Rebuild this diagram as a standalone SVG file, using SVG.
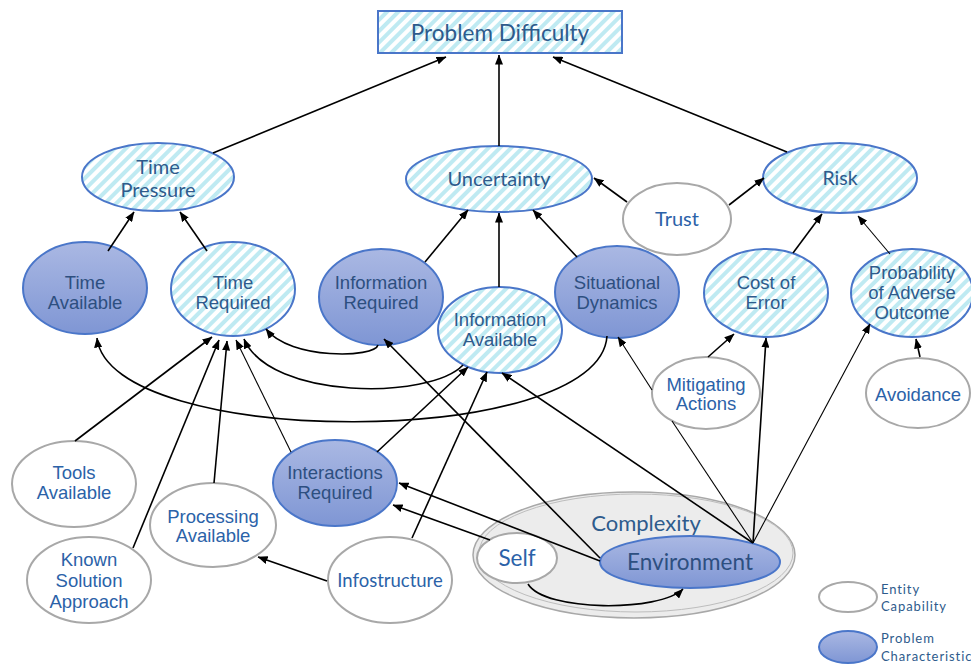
<svg xmlns="http://www.w3.org/2000/svg" width="971" height="665" viewBox="0 0 971 665">
  <defs>
    <!-- diagonal cyan hatch for derived factors -->
    <pattern id="hatch" width="8" height="8" patternUnits="userSpaceOnUse" patternTransform="rotate(45)">
      <rect width="8" height="8" fill="#ffffff"/>
      <rect width="4" height="8" fill="#bfeaf2"/>
    </pattern>
    <!-- shaded fill for problem characteristics -->
    <linearGradient id="shade" x1="0" y1="0" x2="0" y2="1">
      <stop offset="0" stop-color="#aab8e3"/>
      <stop offset="1" stop-color="#7f96d4"/>
    </linearGradient>
    <marker id="arr" markerUnits="userSpaceOnUse" markerWidth="10" markerHeight="8" refX="9.5" refY="4" orient="auto">
      <path d="M0,0 L10,4 L0,8 z" fill="#000"/>
    </marker>
    <style>
      .hatch { fill: url(#hatch); stroke: #4a76c9; stroke-width: 2; }
      .prob { fill: url(#shade); stroke: #4a76c9; stroke-width: 2; }
      .ent { fill: #ffffff; stroke: #a8a8a8; stroke-width: 2; }
      .lbl { font-family: "Liberation Sans", Arial, sans-serif; font-size: 18.5px; text-anchor: middle; }
      .cal { font-family: Lato, "Liberation Sans", sans-serif; text-anchor: middle; }
      .tH { fill: #2e5b8c; }
      .tP { fill: #2d4f80; }
      .tE { fill: #2b62a8; }
      .leg { font-family: Lato, "Liberation Sans", sans-serif; font-size: 13px; fill: #2e5b8c; letter-spacing: 0.9px; }
      .c { fill: none; stroke: #000; stroke-width: 1.6; marker-end: url(#arr); }
      .thin { stroke-width: 1.1; }
      .seg { fill: none; stroke: #000; stroke-width: 1.1; }
    </style>
  </defs>

  <rect width="971" height="665" fill="#ffffff"/>

  <!-- complexity container -->
  <g id="complexity">
    <ellipse cx="634" cy="555" rx="161" ry="63" fill="#ececec" stroke="#a8a8a8" stroke-width="1.5"/>
    <ellipse cx="636" cy="553" rx="157" ry="59" fill="none" stroke="#bdbdbd" stroke-width="1"/>
    <text class="cal" x="646" y="531" font-size="22" fill="#2e5b8c">Complexity</text>
  </g>

  <!-- top goal -->
  <g id="problem-difficulty">
    <rect x="378" y="11" width="244" height="42" fill="url(#hatch)" stroke="#4a76c9" stroke-width="2"/>
    <text class="cal tH" x="500" y="41" font-size="22.5">Problem Difficulty</text>
  </g>

  <!-- second tier -->
  <g id="time-pressure">
    <ellipse class="hatch" cx="158" cy="177" rx="76" ry="34"/>
    <text class="cal tH" x="158" y="174" font-size="20">Time</text>
    <text class="cal tH" x="158" y="197" font-size="20">Pressure</text>
  </g>
  <g id="uncertainty">
    <ellipse class="hatch" cx="499" cy="179" rx="93" ry="33"/>
    <text class="cal tH" x="499" y="186" font-size="20">Uncertainty</text>
  </g>
  <g id="risk">
    <ellipse class="hatch" cx="840" cy="178" rx="77" ry="35"/>
    <text class="cal tH" x="840" y="185" font-size="19.5">Risk</text>
  </g>
  <g id="trust">
    <ellipse class="ent" cx="677" cy="219" rx="54" ry="36"/>
    <text class="cal tE" x="677" y="226" font-size="20">Trust</text>
  </g>

  <!-- third tier -->
  <g id="time-available">
    <ellipse class="prob" cx="85" cy="288" rx="62" ry="46"/>
    <text class="lbl tP" x="85" y="289">Time</text>
    <text class="lbl tP" x="85" y="309">Available</text>
  </g>
  <g id="time-required">
    <ellipse class="hatch" cx="233" cy="289" rx="62" ry="47"/>
    <text class="lbl tH" x="233" y="289">Time</text>
    <text class="lbl tH" x="233" y="309">Required</text>
  </g>
  <g id="information-required">
    <ellipse class="prob" cx="381" cy="297" rx="62" ry="48"/>
    <text class="lbl tP" x="381" y="289">Information</text>
    <text class="lbl tP" x="381" y="309">Required</text>
  </g>
  <g id="information-available">
    <ellipse class="hatch" cx="500" cy="330" rx="62" ry="43"/>
    <text class="lbl tH" x="500" y="326">Information</text>
    <text class="lbl tH" x="500" y="346">Available</text>
  </g>
  <g id="situational-dynamics">
    <ellipse class="prob" cx="617" cy="292" rx="62" ry="46"/>
    <text class="lbl tP" x="617" y="289">Situational</text>
    <text class="lbl tP" x="617" y="309">Dynamics</text>
  </g>
  <g id="cost-of-error">
    <ellipse class="hatch" cx="766" cy="293" rx="62" ry="44"/>
    <text class="lbl tH" x="766" y="289">Cost of</text>
    <text class="lbl tH" x="766" y="309">Error</text>
  </g>
  <g id="probability-of-adverse-outcome">
    <ellipse class="hatch" cx="912" cy="293" rx="61" ry="44"/>
    <text class="lbl tH" x="912" y="279">Probability</text>
    <text class="lbl tH" x="912" y="299">of Adverse</text>
    <text class="lbl tH" x="912" y="319">Outcome</text>
  </g>
  <g id="mitigating-actions">
    <ellipse class="ent" cx="706" cy="393" rx="54" ry="36"/>
    <text class="lbl tE" x="706" y="391">Mitigating</text>
    <text class="lbl tE" x="706" y="410">Actions</text>
  </g>
  <g id="avoidance">
    <ellipse class="ent" cx="918" cy="393" rx="52" ry="35"/>
    <text class="lbl tE" x="918" y="401">Avoidance</text>
  </g>

  <!-- capabilities -->
  <g id="tools-available">
    <ellipse class="ent" cx="74" cy="484" rx="62" ry="43"/>
    <text class="lbl tE" x="74" y="479">Tools</text>
    <text class="lbl tE" x="74" y="499">Available</text>
  </g>
  <g id="known-solution-approach">
    <ellipse class="ent" cx="89" cy="580" rx="62" ry="43"/>
    <text class="lbl tE" x="89" y="566">Known</text>
    <text class="lbl tE" x="89" y="587">Solution</text>
    <text class="lbl tE" x="89" y="608">Approach</text>
  </g>
  <g id="processing-available">
    <ellipse class="ent" cx="213" cy="525" rx="63" ry="42"/>
    <text class="lbl tE" x="213" y="523">Processing</text>
    <text class="lbl tE" x="213" y="542">Available</text>
  </g>
  <g id="interactions-required">
    <ellipse class="prob" cx="335" cy="483" rx="62" ry="43"/>
    <text class="lbl tP" x="335" y="479">Interactions</text>
    <text class="lbl tP" x="335" y="499">Required</text>
  </g>
  <g id="infostructure">
    <ellipse class="ent" cx="390" cy="580" rx="62" ry="43"/>
    <text class="cal tE" x="390" y="587" font-size="18.5">Infostructure</text>
  </g>
  <g id="self">
    <ellipse class="ent" cx="517" cy="558" rx="40" ry="25"/>
    <text class="cal tE" x="517" y="566" font-size="22.5">Self</text>
  </g>
  <g id="environment">
    <ellipse class="prob" cx="690" cy="562" rx="90" ry="26"/>
    <text class="cal tP" x="690" y="570" font-size="22.5">Environment</text>
  </g>

  <!-- connectors -->
  <g id="connectors">
    <path class="c" d="M213,153 L446,57"/>
    <path class="c" d="M499,146 L499,55"/>
    <path class="c" d="M787,152 L553,57"/>
    <path class="c" d="M108,251 L134,212"/>
    <path class="c" d="M207,251 L180,212"/>
    <path class="c" d="M425,262 L468,210"/>
    <path class="c" d="M499,287 L499,213"/>
    <path class="c" d="M577,257 L533,210"/>
    <path class="c" d="M627,202 L594,178"/>
    <path class="c" d="M729,205 L764,178"/>
    <path class="c" d="M793,253 L822,214"/>
    <path class="c thin" d="M890,254 L858,216"/>
    <path class="c" d="M708,357 L734,334"/>
    <path class="c" d="M920,357 L916,339"/>
    <path class="c" d="M378,345 C375,358 290,360 266,329"/>
    <path class="c" d="M463,365 C430,400 270,400 244,339"/>
    <path class="c" d="M607,336 C600,450 110,450 97,338"/>
    <path class="c" d="M75,441 L212,337"/>
    <path class="c" d="M133,548 L219,340"/>
    <path class="c" d="M214,483 L227,341"/>
    <path class="c thin" d="M291,452 L236,340"/>
    <path class="c" d="M377,452 L468,367"/>
    <path class="c" d="M412,538 L487,372"/>
    <path class="c" d="M327,581 L258,557"/>
    <path class="c" d="M600,558 L384,339"/>
    <path class="c" d="M753,543 L502,373"/>
    <path class="seg" d="M753,543 L672,421"/>
    <path class="c thin" d="M652,390 L618,337"/>
    <path class="c" d="M753,543 L766,338"/>
    <path class="c thin" d="M753,543 L870,324"/>
    <path class="c" d="M600,561 L399,483"/>
    <path class="c" d="M490,540 L393,505"/>
    <path class="c" d="M528,584 C545,612 660,612 683,589"/>
  </g>

  <!-- legend -->
  <g id="legend">
    <ellipse class="ent" cx="848" cy="597" rx="29" ry="15"/>
    <text class="leg" x="881" y="594">Entity</text>
    <text class="leg" x="881" y="611">Capability</text>
    <ellipse class="prob" cx="848" cy="647" rx="29" ry="16"/>
    <text class="leg" x="881" y="643">Problem</text>
    <text class="leg" x="881" y="661">Characteristic</text>
  </g>
</svg>
